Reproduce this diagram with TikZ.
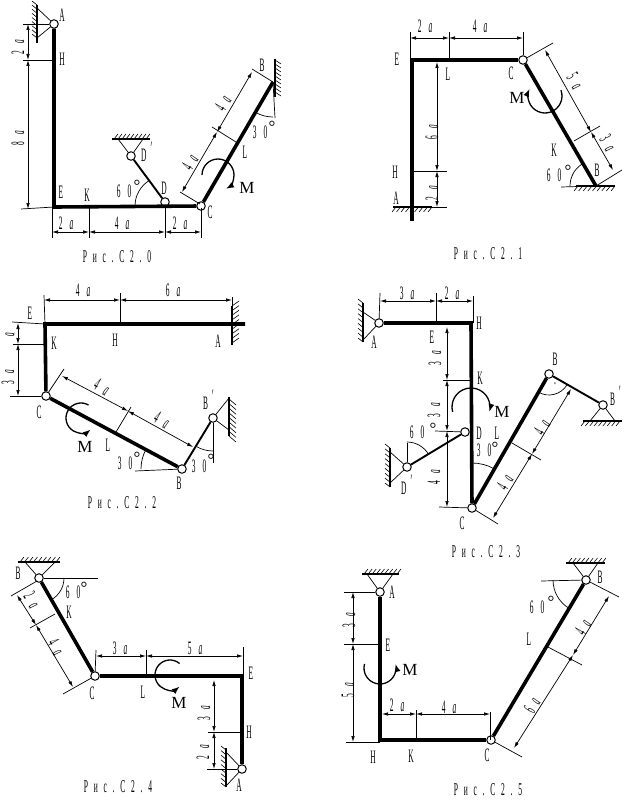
\documentclass[tikz,border=0pt]{standalone}
\usepackage{fontspec}
\setmainfont{Liberation Serif}
\newfontfamily\labelfont[FakeStretch=0.39,WordSpace=3.8]{Liberation Serif}
\newfontfamily\capfont[FakeStretch=0.42,LetterSpace=32]{Liberation Serif}
\usetikzlibrary{
	positioning
	, arrows.meta
	, calc
}

% strokes along a wall or a ground line: from, to, stroke vector
\newcommand{\hatchbar}[3]{
	\foreach \s in {0,0.125,...,1} {
		\draw[hatching] ($(#1)!\s!(#2)$) -- ++(#3);
	}
}
\newcommand{\dimlen}[1]{#1 {\itshape a}}

\begin{document}
\begin{tikzpicture}[
		x=1pt, y=-1pt
		, beam/.style={line width=3.6pt}
		, rod/.style={line width=1.9pt}
		, thinline/.style={line width=0.7pt}
		, hatching/.style={line width=0.6pt}
		, support/.style={line width=1.4pt}
		, dimline/.style={line width=0.7pt, <->, >={Latex[length=6pt,width=3.5pt]}}
		, moment/.style={line width=1.3pt, ->, >={Latex[length=8pt,width=6pt]}}
		, hinge/.style={draw, circle, fill=white, line width=1pt, minimum size=8.5pt, inner sep=0pt}
		, letter/.style={font=\labelfont\fontsize{19}{19}\selectfont, inner sep=0pt}
		, degree/.style={font=\fontsize{17}{17}\selectfont, inner sep=0pt, anchor=north, yshift=2.5pt}
		, momentlabel/.style={font=\fontsize{17}{17}\selectfont, inner sep=0pt}
		, caption/.style={font=\capfont\fontsize{18}{18}\selectfont, inner sep=0pt}]

	\useasboundingbox (0,0) rectangle (625,800);

	%%% Figure 0
	\node[hinge] (A0) at (54,24) {};
	\node[hinge] (D0) at (165,202) {};
	\node[hinge] (C0) at (201,206) {};
	\node[hinge] (Dp0) at (131,156) {};
	\coordinate (H0) at (54,60);
	\coordinate (E0) at (54,207);
	\coordinate (B0) at (273,82);
	\coordinate (M0) at (218,175);

	\draw[beam] (A0) -- (E0) -- (C0);
	\draw[beam] (C0) -- (B0);
	\draw[rod] (Dp0) -- (D0);

	%% supports
	\draw[support] (37,5) -- (37,43);
	\hatchbar{37,5}{37,38}{-5,-4}
	\draw[thinline] (37,8) -- (A0) -- (37,38);
	\draw[support] (112,139) -- (150,139);
	\hatchbar{114,139}{146,139}{4,-5}
	\draw[thinline] (118,139) -- (Dp0) -- (143,139);
	\draw[support] (275,59) -- (275,97);
	\hatchbar{275,60}{275,92}{6,4}

	%% dimensions
	\draw[thinline] (23,24) -- (A0);
	\draw[thinline] (23,60) -- (H0);
	\draw[thinline] (21,209) -- (E0);
	\draw[thinline] (52,206) -- (52,238);
	\draw[thinline] (89,206) -- (89,238);
	\draw[thinline] (165,206) -- (165,238);
	\draw[thinline] (201,208) -- (201,238);
	\draw[thinline] (180,192) -- (200,204);
	\draw[thinline] (212,127) -- (236,142);
	\draw[thinline] (252,69) -- (273,82);
	\draw[thinline] (B0) -- (275,118);
	\draw[dimline] (28,24) -- (28,60);
	\draw[dimline] (28,60) -- (28,209);
	\draw[dimline] (52,232) -- (89,232);
	\draw[dimline] (89,232) -- (165,232);
	\draw[dimline] (165,232) -- (201,232);
	\draw[dimline] (182,192) -- (217,132);
	\draw[dimline] (217,132) -- (252,72);
	\draw[thinline] ([shift={(180:30)}]165,206) arc[start angle=180, end angle=240, radius=30];
	\draw[thinline] ([shift={(90:35)}]B0) arc[start angle=90, end angle=120, radius=35];
	\draw[moment] ([shift={(180:16)}]M0) arc[start angle=180, end angle=420, radius=16];

	%% labels
	\foreach \lab/\x/\y/\txt in {lA0/62/15/A, lH0/62/59/H, lE0/61/192/E, lK0/87/195/K, lD0/164/188/D, lC0/210/212/C, lL0/245/152/L, lB0/262/65/B, langD0/124/191/6 0, langB0/260/132/3 0} {
		\node[letter] (\lab) at (\x,\y) {\txt};
	}
	\node[letter, anchor=base west] (lDp0) at (141,161) {D\hspace{4pt}\raisebox{7pt}{′}};
	\foreach \lab/\x/\y/\ang/\txt in {d1x0/18/47/90/2, d2x0/18/138/90/8, d3x0/66/223/0/2, d4x0/122/223/0/4, d5x0/180/223/0/2, d6x0/223/103/60/4, d7x0/190/162/60/4} {
		\node[letter, rotate=\ang] (\lab) at (\x,\y) {\dimlen{\txt}};
	}
	\node[degree] (dgD0) at (137,182) {°};
	\node[degree] (dgB0) at (272,123) {°};
	\node[momentlabel] (lM0) at (247,188) {M};
	\node[caption] (cap0) at (117,257) {Рис.С2.0};

	%%% Figure 1
	\node[hinge] (C1) at (523,60) {};
	\coordinate (E1) at (412,60);
	\coordinate (H1) at (412,171);
	\coordinate (A1) at (412,221);
	\coordinate (B1) at (596,186);
	\coordinate (M1) at (545,96);

	\draw[beam] (A1) -- (E1) -- (C1);
	\draw[beam] (C1) -- (B1);

	%% supports
	\draw[support] (393,207) -- (432,207);
	\hatchbar{396,207}{432,207}{-4,5}
	\draw[support] (576,186) -- (615,186);
	\hatchbar{578,186}{615,186}{-4,5}

	%% dimensions
	\draw[thinline] (410,32) -- (410,60);
	\draw[thinline] (449,32) -- (449,60);
	\draw[thinline] (523,32) -- (C1);
	\draw[thinline] (H1) -- (447,171);
	\draw[thinline] (432,207) -- (447,207);
	\draw[thinline] (C1) -- (553,43);
	\draw[thinline] (574,141) -- (600,126);
	\draw[thinline] (B1) -- (622,170);
	\draw[thinline] (561,187) -- (B1);
	\draw[dimline] (410,38) -- (449,38);
	\draw[dimline] (449,38) -- (523,38);
	\draw[dimline] (437,62) -- (437,171);
	\draw[dimline] (437,171) -- (437,207);
	\draw[dimline] (545,50) -- (591,132);
	\draw[dimline] (591,132) -- (613,170);
	\draw[thinline] ([shift={(180:26)}]B1) arc[start angle=180, end angle=240, radius=26];
	\draw[moment] ([shift={(-20:17)}]M1) arc[start angle=-20, end angle=205, radius=17];

	%% labels
	\foreach \lab/\x/\y/\txt in {lE1/397/59/E, lL1/448/74/L, lC1/511/73/C, lH1/395/172/H, lA1/396/198/A, lK1/554/150/K, lB1/597/170/B, langB1/554/175/6 0} {
		\node[letter] (\lab) at (\x,\y) {\txt};
	}
	\foreach \lab/\x/\y/\ang/\txt in {d1x1/425/26/0/2, d2x1/480/26/0/4, d3x1/432/132/90/6, d4x1/432/193/90/2, d5x1/575/81/-60/5, d6x1/608/143/-60/3} {
		\node[letter, rotate=\ang] (\lab) at (\x,\y) {\dimlen{\txt}};
	}
	\node[degree] (dgB1) at (568,167) {°};
	\node[momentlabel] (lM1) at (517,98) {M};
	\node[caption] (cap1) at (488,254) {Рис.С2.1};

	%%% Figure 2
	\node[hinge] (C2) at (46,396) {};
	\node[hinge] (B2) at (182,469) {};
	\node[hinge] (Bp2) at (213,418) {};
	\coordinate (E2) at (45,324);
	\coordinate (H2) at (120,324);
	\coordinate (A2) at (245,324);
	\coordinate (K2) at (45,344);
	\coordinate (M2) at (81,418);

	\draw[beam] (C2) -- (E2) -- (A2);
	\draw[beam] (C2) -- (B2);
	\draw[rod] (B2) -- (Bp2);

	%% supports
	\draw[support] (232,306) -- (232,345);
	\hatchbar{232,306}{232,343}{7,-5}
	\draw[support] (229,397) -- (229,436);
	\hatchbar{229,399}{229,436}{7,6}
	\draw[thinline] (229,398) -- (Bp2) -- (229,430);

	%% dimensions
	\draw[thinline] (44,295) -- (E2);
	\draw[thinline] (120,293) -- (H2);
	\draw[thinline] (232,297) -- (232,324);
	\draw[thinline] (12,322) -- (E2);
	\draw[thinline] (13,344) -- (K2);
	\draw[thinline] (10,396) -- (C2);
	\draw[thinline] (C2) -- (64,369);
	\draw[thinline] (116,432) -- (131,407);
	\draw[thinline] (Bp2) -- (213,463);
	\draw[thinline] (135,471) -- (B2);
	\draw[dimline] (44,300) -- (120,300);
	\draw[dimline] (120,300) -- (232,300);
	\draw[dimline] (18,323) -- (18,344);
	\draw[dimline] (18,344) -- (18,396);
	\draw[dimline] (62,376) -- (128,411);
	\draw[dimline] (128,411) -- (193,447);
	\draw[thinline] ([shift={(180:41)}]B2) arc[start angle=180, end angle=208, radius=41];
	\draw[thinline] ([shift={(90:33)}]Bp2) arc[start angle=90, end angle=120, radius=33];
	\draw[moment] ([shift={(-60:15)}]M2) arc[start angle=-60, end angle=-310, radius=15];

	%% labels
	\foreach \lab/\x/\y/\txt in {lE2/30/313/E, lK2/54/343/K, lH2/115/340/H, lA2/218/341/A, lC2/39/412/C, lB2/179/483/B, lL2/108/445/L, langB2/125/463/3 0, langBp2/199/466/3 0} {
		\node[letter] (\lab) at (\x,\y) {\txt};
	}
	\node[letter, anchor=base west] (lBp2) at (203,409) {B\hspace{4pt}\raisebox{7pt}{′}};
	\foreach \lab/\x/\y/\ang/\txt in {d1x2/83/290/0/4, d2x2/173/290/0/6, d3x2/8/377/90/3, d4x2/102/387/-30/4, d5x2/162/420/-30/4} {
		\node[letter, rotate=\ang] (\lab) at (\x,\y) {\dimlen{\txt}};
	}
	\node[letter, rotate=90] (d6x2) at (10,335) {\itshape a};
	\node[degree] (dgB2) at (137,454) {°};
	\node[degree] (dgBp2) at (211,456) {°};
	\node[momentlabel] (lM2) at (85,447) {M};
	\node[caption] (cap2) at (122,503) {Рис.С2.2};

	%%% Figure 3
	\node[hinge] (A3) at (379,323) {};
	\node[hinge] (D3) at (465,432) {};
	\node[hinge] (C3) at (472,508) {};
	\node[hinge] (B3) at (549,374) {};
	\node[hinge] (Bp3) at (603,405) {};
	\node[hinge] (Dp3) at (407,467) {};
	\coordinate (E3) at (436,323);
	\coordinate (H3) at (471,323);
	\coordinate (K3) at (471,380);
	\coordinate (M3) at (471,407);

	\draw[beam] (A3) -- (H3) -- (C3);
	\draw[beam] (C3) -- (B3);
	\draw[rod] (B3) -- (Bp3);
	\draw[rod] (Dp3) -- (D3);

	%% supports
	\draw[support] (363,303) -- (363,342);
	\hatchbar{363,303}{363,342}{-5,-4}
	\draw[thinline] (363,312) -- (A3) -- (363,340);
	\draw[support] (390,448) -- (390,487);
	\hatchbar{390,448}{390,487}{-5,-4}
	\draw[thinline] (390,452) -- (Dp3) -- (390,483);
	\draw[support] (583,421) -- (622,421);
	\hatchbar{585,421}{620,421}{-4,5}
	\draw[thinline] (590,421) -- (Bp3) -- (615,421);

	%% dimensions
	\draw[thinline] (380,293) -- (A3);
	\draw[thinline] (436,293) -- (E3);
	\draw[thinline] (473,296) -- (473,323);
	\draw[thinline] (443,380) -- (K3);
	\draw[thinline] (435,431) -- (D3);
	\draw[thinline] (439,507) -- (C3);
	\draw[thinline] (C3) -- (498,524);
	\draw[thinline] (512,443) -- (541,460);
	\draw[thinline] (Dp3) -- (407,443);
	\draw[dimline] (380,301) -- (436,301);
	\draw[dimline] (436,301) -- (473,301);
	\draw[dimline] (447,327) -- (447,380);
	\draw[dimline] (447,380) -- (447,431);
	\draw[dimline] (447,431) -- (447,507);
	\draw[dimline] (493,518) -- (532,454);
	\draw[dimline] (532,454) -- (571,389);
	\draw[thinline] ([shift={(-90:25)}]Dp3) arc[start angle=-90, end angle=-30, radius=25];
	\draw[thinline] ([shift={(-90:45)}]C3) arc[start angle=-90, end angle=-60, radius=45];
	\draw[thinline] ([shift={(120:21)}]B3) arc[start angle=120, end angle=30, radius=21];
	\draw[moment] ([shift={(165:19)}]M3) arc[start angle=165, end angle=375, radius=19];

	%% labels
	\foreach \lab/\x/\y/\txt in {lA3/374/342/A, lE3/432/337/E, lH3/479/323/H, lK3/480/378/K, lD3/479/433/D, lL3/497/433/L, lB3/555/359/B, lC3/462/523/C, langD3/417/432/6 0, langC3/484/450/3 0, ldot3/555/384/.} {
		\node[letter] (\lab) at (\x,\y) {\txt};
	}
	\node[letter, anchor=base west] (lBp3) at (610,405) {B\hspace{4pt}\raisebox{7pt}{′}};
	\node[letter, anchor=base west] (lDp3) at (401,494) {D\hspace{4pt}\raisebox{7pt}{′}};
	\foreach \lab/\x/\y/\ang/\txt in {d1x3/407/293/0/3, d2x3/452/293/0/2, d3x3/435/358/90/3, d4x3/434/410/90/3, d5x3/434/477/90/4, d6x3/542/427/60/4, d7x3/505/482/60/4} {
		\node[letter, rotate=\ang] (\lab) at (\x,\y) {\dimlen{\txt}};
	}
	\node[degree] (dgD3) at (433,425) {°};
	\node[degree] (dgC3) at (495,444) {°};
	\node[momentlabel] (lM3) at (502,412) {M};
	\node[caption] (cap3) at (486,552) {Рис.С2.3};

	%%% Figure 4
	\node[hinge] (B4) at (39,578) {};
	\node[hinge] (C4) at (95,676) {};
	\node[hinge] (A4) at (242,769) {};
	\coordinate (E4) at (242,676);
	\coordinate (H4) at (242,732);
	\coordinate (K4) at (55,614);
	\coordinate (M4) at (170,675);

	\draw[beam] (B4) -- (C4);
	\draw[beam] (C4) -- (E4) -- (A4);

	%% supports
	\draw[support] (18,562) -- (60,562);
	\hatchbar{20,562}{56,562}{4,-5}
	\draw[thinline] (25,562) -- (B4) -- (55,562);
	\draw[support] (226,748) -- (226,787);
	\hatchbar{226,750}{226,787}{-5,-4}
	\draw[thinline] (226,752) -- (A4) -- (226,786);

	%% dimensions
	\draw[thinline] (B4) -- (98,578);
	\draw[thinline] (37,581) -- (11,596);
	\draw[thinline] (K4) -- (30,628);
	\draw[thinline] (C4) -- (63,694);
	\draw[thinline] (96,650) -- (C4);
	\draw[thinline] (146,650) -- (146,676);
	\draw[thinline] (243,647) -- (243,676);
	\draw[thinline] (208,732) -- (H4);
	\draw[thinline] (207,769) -- (A4);
	\draw[dimline] (96,656) -- (146,656);
	\draw[dimline] (146,656) -- (243,656);
	\draw[dimline] (214,680) -- (214,732);
	\draw[dimline] (214,732) -- (214,769);
	\draw[dimline] (17,595) -- (36,625);
	\draw[dimline] (36,625) -- (73,687);
	\draw[thinline] ([shift={(0:25)}]B4) arc[start angle=0, end angle=60, radius=25];
	\draw[moment] ([shift={(-50:15)}]M4) arc[start angle=-50, end angle=-310, radius=15];

	%% labels
	\foreach \lab/\x/\y/\txt in {lB4/18/573/B, lK4/69/612/K, lC4/92/693/C, lL4/143/692/L, lE4/251/673/E, lH4/249/732/H, lA4/239/785/A, langB4/73/592/6 0} {
		\node[letter] (\lab) at (\x,\y) {\txt};
	}
	\foreach \lab/\x/\y/\ang/\txt in {d1x4/120/648/0/3, d2x4/195/648/0/5, d3x4/204/713/90/3, d4x4/203/752/90/2, d5x4/32/600/-60/2, d6x4/56/647/-60/4} {
		\node[letter, rotate=\ang] (\lab) at (\x,\y) {\dimlen{\txt}};
	}
	\node[degree] (dgB4) at (84,584) {°};
	\node[momentlabel] (lM4) at (179,703) {M};
	\node[caption] (cap4) at (118,787) {Рис.С2.4};

	%%% Figure 5
	\node[hinge] (A5) at (380,592) {};
	\node[hinge] (C5) at (491,740) {};
	\node[hinge] (B5) at (586,580) {};
	\coordinate (E5) at (380,644);
	\coordinate (H5) at (380,740);
	\coordinate (K5) at (416,740);
	\coordinate (M5) at (380,668);

	\draw[beam] (A5) -- (H5) -- (C5);
	\draw[beam] (C5) -- (B5);

	%% supports
	\draw[support] (362,574) -- (399,574);
	\hatchbar{364,574}{397,574}{4,-5}
	\draw[thinline] (367,574) -- (A5) -- (393,574);
	\draw[support] (566,563) -- (605,563);
	\hatchbar{568,563}{602,563}{4,-5}
	\draw[thinline] (573,563) -- (B5) -- (598,563);

	%% dimensions
	\draw[thinline] (344,592) -- (A5);
	\draw[thinline] (344,644) -- (E5);
	\draw[thinline] (346,742) -- (380,742);
	\draw[thinline] (416,710) -- (K5);
	\draw[thinline] (490,712) -- (490,740);
	\draw[thinline] (541,581) -- (B5);
	\draw[thinline] (C5) -- (522,757);
	\draw[thinline] (548,647) -- (582,665);
	\draw[thinline] (B5) -- (619,597);
	\draw[dimline] (353,592) -- (353,644);
	\draw[dimline] (353,644) -- (353,742);
	\draw[dimline] (382,714) -- (416,714);
	\draw[dimline] (416,714) -- (490,714);
	\draw[dimline] (514,748) -- (573,655);
	\draw[dimline] (573,655) -- (609,596);
	\draw[thinline] ([shift={(180:33)}]B5) arc[start angle=180, end angle=122, radius=33];
	\draw[moment] ([shift={(195:16)}]M5) arc[start angle=195, end angle=-15, radius=16];

	%% labels
	\foreach \lab/\x/\y/\txt in {lA5/392/592/A, lE5/388/645/E, lH5/373/757/H, lK5/411/756/K, lC5/487/755/C, lB5/600/577/B, lL5/529/639/L, langB5/537/607/6 0} {
		\node[letter] (\lab) at (\x,\y) {\txt};
	}
	\foreach \lab/\x/\y/\ang/\txt in {d1x5/349/620/90/3, d2x5/348/690/90/5, d3x5/397/705/0/2, d4x5/449/707/0/4, d5x5/583/627/60/4, d6x5/532/705/60/6} {
		\node[letter, rotate=\ang] (\lab) at (\x,\y) {\dimlen{\txt}};
	}
	\node[degree] (dgB5) at (551,598) {°};
	\node[momentlabel] (lM5) at (410,670) {M};
	\node[caption] (cap5) at (488,790) {Рис.С2.5};
\end{tikzpicture}
\end{document}
